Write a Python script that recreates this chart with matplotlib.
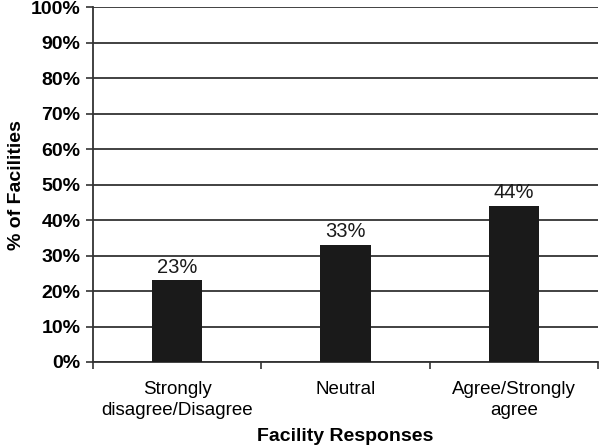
import numpy as np
import matplotlib
matplotlib.use("Agg")
import matplotlib.pyplot as plt
from matplotlib.ticker import FixedLocator

plt.rcParams['font.family'] = ['Liberation Sans', 'DejaVu Sans']

categories = ["Strongly\ndisagree/Disagree", "Neutral", "Agree/Strongly\nagree"]
percents = [23, 33, 44]
y_ticks = list(range(0, 101, 10))

fig = plt.figure(figsize=(6, 4.48), dpi=100)
ax = fig.add_axes([0.155, 0.192, 0.842, 0.792])

x = np.arange(len(categories))
ax.bar(x, percents, width=0.3, color="#1a1a1a", zorder=3)

for xi, v in zip(x, percents):
    ax.text(xi, v + 1.0, f"{v}%", ha="center", va="bottom", fontsize=14.5, color="#1a1a1a")

ax.set_xlim(-0.5, len(categories) - 0.5)
ax.set_ylim(0, 100)
ax.set_yticks(y_ticks)
ax.set_yticklabels([f"{t}%" for t in y_ticks], fontsize=14, fontweight="bold")
ax.set_xticks(x)
ax.set_xticklabels(categories, fontsize=13.5, linespacing=1.3)
ax.tick_params(axis="x", length=0, pad=14)
ax.xaxis.set_minor_locator(FixedLocator(np.arange(-0.5, len(categories), 1.0)))
ax.tick_params(axis="x", which="minor", length=5, width=1.2, color="#333333")
ax.tick_params(axis="y", length=5, width=1.2, color="#333333", pad=4)

ax.grid(axis="y", color="#333333", linewidth=1.3, zorder=1)
for s in ["top", "right"]:
    ax.spines[s].set_visible(False)
for s in ["left", "bottom"]:
    ax.spines[s].set_color("#333333")
    ax.spines[s].set_linewidth(1.3)

fig.text(0.576, 0.026, "Facility Responses", ha="center", va="center",
         fontsize=14, fontweight="bold")
ax.set_ylabel("% of Facilities", fontsize=14, fontweight="bold", labelpad=4)

fig.savefig("out.png", dpi=100)
